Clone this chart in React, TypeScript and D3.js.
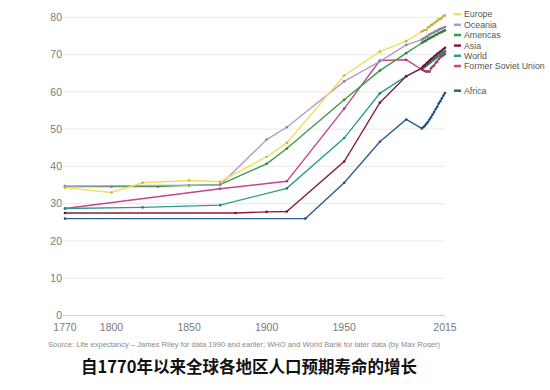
import React from "react";
import * as d3 from "d3";

const yTicks = [0, 10, 20, 30, 40, 50, 60, 70, 80];
const xTicks = [1770, 1800, 1850, 1900, 1950, 2015];

const annualYears = [2000, 2001, 2002, 2003, 2004, 2005, 2006, 2007, 2008, 2009, 2010, 2011, 2012, 2013, 2014, 2015];

const africaYears = [1770, 1925, 1950, 1973, 1990];
const africaValues = [26.0, 26.0, 35.6, 46.6, 52.6];
const africaAnnual = [50.2, 50.5, 50.9, 51.4, 51.9, 52.6, 53.2, 53.9, 54.6, 55.4, 56.0, 56.9, 57.5, 58.3, 59.0, 59.7];

const fsuYears = [1770, 1870, 1913, 1950, 1973, 1990];
const fsuValues = [28.7, 34.0, 36.0, 55.5, 68.4, 68.6];
const fsuAnnual = [66.0, 65.8, 65.6, 65.4, 65.5, 65.4, 66.3, 66.8, 67.1, 67.8, 68.1, 68.8, 69.3, 69.6, 69.8, 70.2];

const worldYears = [1770, 1820, 1870, 1913, 1950, 1973, 1990];
const worldValues = [28.7, 29.0, 29.6, 34.1, 47.6, 59.6, 64.2];
const worldAnnual = [66.2, 66.5, 66.7, 67.0, 67.4, 67.7, 68.0, 68.4, 68.7, 69.0, 69.4, 69.7, 70.0, 70.3, 70.6, 70.9];

const asiaYears = [1770, 1880, 1900, 1913, 1950, 1973, 1990];
const asiaValues = [27.5, 27.5, 27.8, 27.9, 41.3, 57.1, 64.2];
const asiaAnnual = [66.4, 66.9, 67.2, 67.6, 68.0, 68.4, 68.8, 69.1, 69.5, 69.8, 70.2, 70.5, 70.8, 71.1, 71.5, 71.8];

const americasYears = [1770, 1800, 1830, 1850, 1870, 1900, 1913, 1950, 1973, 1990];
const americasValues = [34.6, 34.6, 34.6, 34.9, 35.1, 40.7, 44.8, 57.9, 65.7, 70.4];
const americasAnnual = [73.1, 73.4, 73.6, 73.8, 74.2, 74.3, 74.6, 74.8, 75.0, 75.3, 75.4, 75.8, 75.9, 76.1, 76.3, 76.5];

const oceaniaYears = [1770, 1870, 1900, 1913, 1950, 1973, 1990];
const oceaniaValues = [34.7, 35.0, 47.2, 50.5, 62.8, 68.2, 72.6];
const oceaniaAnnual = [74.0, 74.3, 74.5, 74.8, 75.0, 75.4, 75.6, 75.8, 76.0, 76.3, 76.4, 76.7, 76.9, 77.0, 77.2, 77.4];

const europeYears = [1770, 1800, 1820, 1850, 1870, 1900, 1913, 1950, 1973, 1990];
const europeValues = [34.3, 33.0, 35.6, 36.2, 35.9, 42.6, 46.3, 64.4, 70.8, 73.6];
const europeAnnual = [76.2, 76.4, 76.6, 76.6, 77.3, 77.4, 77.9, 78.1, 78.4, 78.8, 79.0, 79.5, 79.5, 79.9, 80.4, 80.5];

const seriesNames = ["Africa", "Former Soviet Union", "World", "Asia", "Americas", "Oceania", "Europe"];
const seriesColors = ["#2d5f91", "#c2478a", "#2b9c8f", "#8c1c3e", "#3d9b48", "#b09ccc", "#f0df58"];
const legendNames = ["Europe", "Oceania", "Americas", "Asia", "World", "Former Soviet Union", "Africa"];
const legendColors = ["#f0df58", "#b09ccc", "#3d9b48", "#8c1c3e", "#2b9c8f", "#e0406e", "#2d5f91"];
const legendY = [14.2, 24.8, 35.0, 45.6, 55.8, 66.0, 90.7];

const sourceText = "Source: Life expectancy – James Riley for data 1990 and earlier; WHO and World Bank for later data (by Max Roser)";
const titleText = "自1770年以来全球各地区人口预期寿命的增长";

function build(years: number[], values: number[], annual: number[]) {
  const pts = years.map((y, i) => ({ year: y, value: values[i] }));
  annualYears.forEach((y, i) => pts.push({ year: y, value: annual[i] }));
  return pts;
}

const allSeries = [
  build(africaYears, africaValues, africaAnnual),
  build(fsuYears, fsuValues, fsuAnnual),
  build(worldYears, worldValues, worldAnnual),
  build(asiaYears, asiaValues, asiaAnnual),
  build(americasYears, americasValues, americasAnnual),
  build(oceaniaYears, oceaniaValues, oceaniaAnnual),
  build(europeYears, europeValues, europeAnnual),
];

export default function App() {
  const x = d3.scaleLinear().domain([1770, 2015]).range([65, 445]);
  const y = d3.scaleLinear().domain([0, 80]).range([315.5, 17.3]);
  const line = d3
    .line<{ year: number; value: number }>()
    .x((d) => x(d.year))
    .y((d) => y(d.value));
  const font = "'Liberation Sans', Arial, sans-serif";

  return (
    <svg
      width={550}
      height={390}
      style={{ position: "absolute", left: 0, top: 0, background: "#fff" }}
    >
      <rect x={0} y={0} width={550} height={390} fill="#fff" />
      {yTicks.map((t) => (
        <g key={t}>
          {t > 0 && (
            <line x1={63} x2={445} y1={y(t)} y2={y(t)} stroke="#e9e9e9" strokeWidth={1} />
          )}
          <text
            x={62}
            y={y(t) + 3.8}
            textAnchor="end"
            fontFamily={font}
            fontSize={10.5}
            fill="#7a7a7a"
          >
            {t}
          </text>
        </g>
      ))}
      <line x1={63} x2={445} y1={y(0)} y2={y(0)} stroke="#cfcfcf" strokeWidth={1} />
      {xTicks.map((t) => (
        <text
          key={t}
          x={x(t)}
          y={331}
          textAnchor="middle"
          fontFamily={font}
          fontSize={10.5}
          fill="#7a7a7a"
        >
          {t}
        </text>
      ))}
      {allSeries.map((s, i) => (
        <g key={seriesNames[i]}>
          <path d={line(s) || ""} fill="none" stroke={seriesColors[i]} strokeWidth={1.4} />
          {s.map((p, j) => (
            <circle
              key={j}
              cx={x(p.year)}
              cy={y(p.value)}
              r={1.3}
              fill={d3.color(seriesColors[i])!.darker(0.6).toString()}
            />
          ))}
        </g>
      ))}
      {legendNames.map((n, i) => (
        <g key={n}>
          <line
            x1={454}
            x2={461}
            y1={legendY[i]}
            y2={legendY[i]}
            stroke={legendColors[i]}
            strokeWidth={2.5}
          />
          <text
            x={464}
            y={legendY[i] + 3.2}
            fontFamily={font}
            fontSize={8.8}
            fill="#555"
          >
            {n}
          </text>
        </g>
      ))}
      <text
        x={48}
        y={347}
        fontFamily={font}
        fontSize={7}
        fill="#8a8a8a"
        textLength={392}
        lengthAdjust="spacingAndGlyphs"
      >
        {sourceText}
      </text>
      <text
        x={249}
        y={373}
        textAnchor="middle"
        fontFamily="'Noto Sans CJK SC', sans-serif"
        fontWeight="bold"
        fontSize={16.5}
        fill="#111"
      >
        {titleText}
      </text>
    </svg>
  );
}
